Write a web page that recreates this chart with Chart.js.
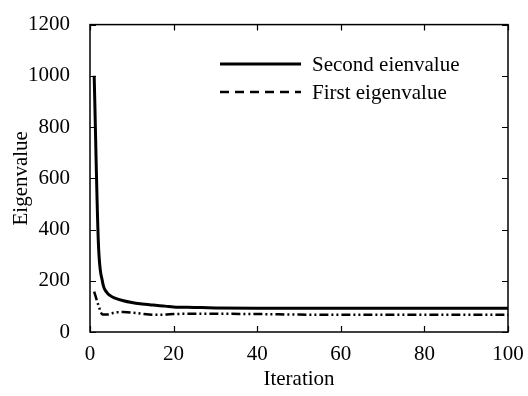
<!DOCTYPE html>
<html>
<head>
<meta charset="utf-8">
<script src="https://cdn.jsdelivr.net/npm/chart.js@4.4.1/dist/chart.umd.min.js"></script>
<style>
  html, body { margin: 0; padding: 0; background: #fff; }
  #wrap { width: 528px; height: 396px; }
</style>
</head>
<body>
<div id="wrap"><canvas id="chart" width="528" height="396"></canvas></div>
<script>
// values
const iterations = [1, 2, 3, 4, 5, 6, 8, 10, 12, 15, 18, 20, 25, 30, 40, 50, 60, 70, 80, 90, 100];
const secondEig  = [1000, 350, 195, 155, 140, 132, 122, 115, 110, 105, 101, 98, 96, 94, 93, 93, 93, 93, 93, 93, 93];
const firstEig   = [158, 105, 68, 68, 72, 76, 78, 76, 72, 67, 68, 70, 71, 71, 70, 68, 67, 67, 67, 67, 67];
const xTicks = [0, 20, 40, 60, 80, 100];
const yTicks = [0, 200, 400, 600, 800, 1000, 1200];
const seriesNames = ["Second eienvalue", "First eigenvalue"];

const FONT = "'Liberation Serif', 'Times New Roman', serif";
const FS = 21;

function pts(ys) {
  return iterations.map((x, i) => ({ x: x, y: ys[i] }));
}

/* frame + inward ticks, like the original figure */
const framePlugin = {
  id: "frame",
  afterDatasetsDraw(chart) {
    const { ctx, chartArea: a, scales } = chart;
    ctx.save();
    ctx.strokeStyle = "#000";
    ctx.lineWidth = 1.5;
    ctx.strokeRect(a.left, a.top, a.right - a.left, a.bottom - a.top);
    ctx.lineWidth = 1.2;
    ctx.beginPath();
    xTicks.forEach(v => {
      const px = Math.round(scales.x.getPixelForValue(v)) + 0.5;
      ctx.moveTo(px, a.bottom); ctx.lineTo(px, a.bottom - 6);
      ctx.moveTo(px, a.top); ctx.lineTo(px, a.top + 6);
    });
    yTicks.forEach(v => {
      const py = Math.round(scales.y.getPixelForValue(v)) + 0.5;
      ctx.moveTo(a.left, py); ctx.lineTo(a.left + 6, py);
      ctx.moveTo(a.right, py); ctx.lineTo(a.right - 6, py);
    });
    ctx.stroke();
    ctx.restore();
  }
};

/* legend inside the plot, upper right */
const legendPlugin = {
  id: "innerLegend",
  afterDraw(chart) {
    const { ctx } = chart;
    const rows = [
      { y: 64, dash: [], w: 3 },
      { y: 92, dash: [9, 6], w: 2.5 }
    ];
    ctx.save();
    ctx.font = FS + "px " + FONT;
    ctx.fillStyle = "#000";
    ctx.textBaseline = "middle";
    rows.forEach((r, i) => {
      ctx.strokeStyle = "#000";
      ctx.lineWidth = r.w;
      ctx.setLineDash(r.dash);
      ctx.beginPath();
      ctx.moveTo(220, r.y); ctx.lineTo(301, r.y);
      ctx.stroke();
      ctx.setLineDash([]);
      ctx.fillText(seriesNames[i], 312, r.y + 1);
    });
    ctx.restore();
  }
};

new Chart(document.getElementById("chart"), {
  type: "line",
  data: {
    datasets: [
      {
        label: seriesNames[0],
        data: pts(secondEig),
        borderColor: "#000",
        borderWidth: 3,
        pointRadius: 0,
        cubicInterpolationMode: "monotone",
        fill: false
      },
      {
        label: seriesNames[1],
        data: pts(firstEig),
        borderColor: "#000",
        borderWidth: 2.5,
        borderDash: [9, 3, 2, 3, 2, 3],
        pointRadius: 0,
        cubicInterpolationMode: "monotone",
        fill: false
      }
    ]
  },
  options: {
    responsive: false,
    animation: false,
    layout: { padding: { top: 16, right: 20, left: 0, bottom: 0 } },
    plugins: { legend: { display: false }, tooltip: { enabled: false } },
    scales: {
      x: {
        type: "linear",
        min: 0,
        max: 100,
        afterBuildTicks: s => { s.ticks = xTicks.map(v => ({ value: v })); },
        afterFit: s => { s.height = 64; },
        grid: { display: false },
        border: { display: false },
        ticks: { color: "#000", font: { family: FONT, size: FS }, padding: 2, maxRotation: 0,
                 callback: v => String(v) },
        title: { display: true, text: "Iteration", color: "#000", font: { family: FONT, size: FS }, padding: { top: 2 } }
      },
      y: {
        min: 0,
        max: 1200,
        afterBuildTicks: s => { s.ticks = yTicks.map(v => ({ value: v })); },
        afterFit: s => { s.width = 90; },
        grid: { display: false },
        border: { display: false },
        ticks: { color: "#000", font: { family: FONT, size: FS }, padding: 12,
                 callback: v => String(v) },
        title: { display: true, text: "Eigenvalue", color: "#000", font: { family: FONT, size: FS }, padding: { top: 9, bottom: 0 } }
      }
    }
  },
  plugins: [framePlugin, legendPlugin]
});
</script>
</body>
</html>
